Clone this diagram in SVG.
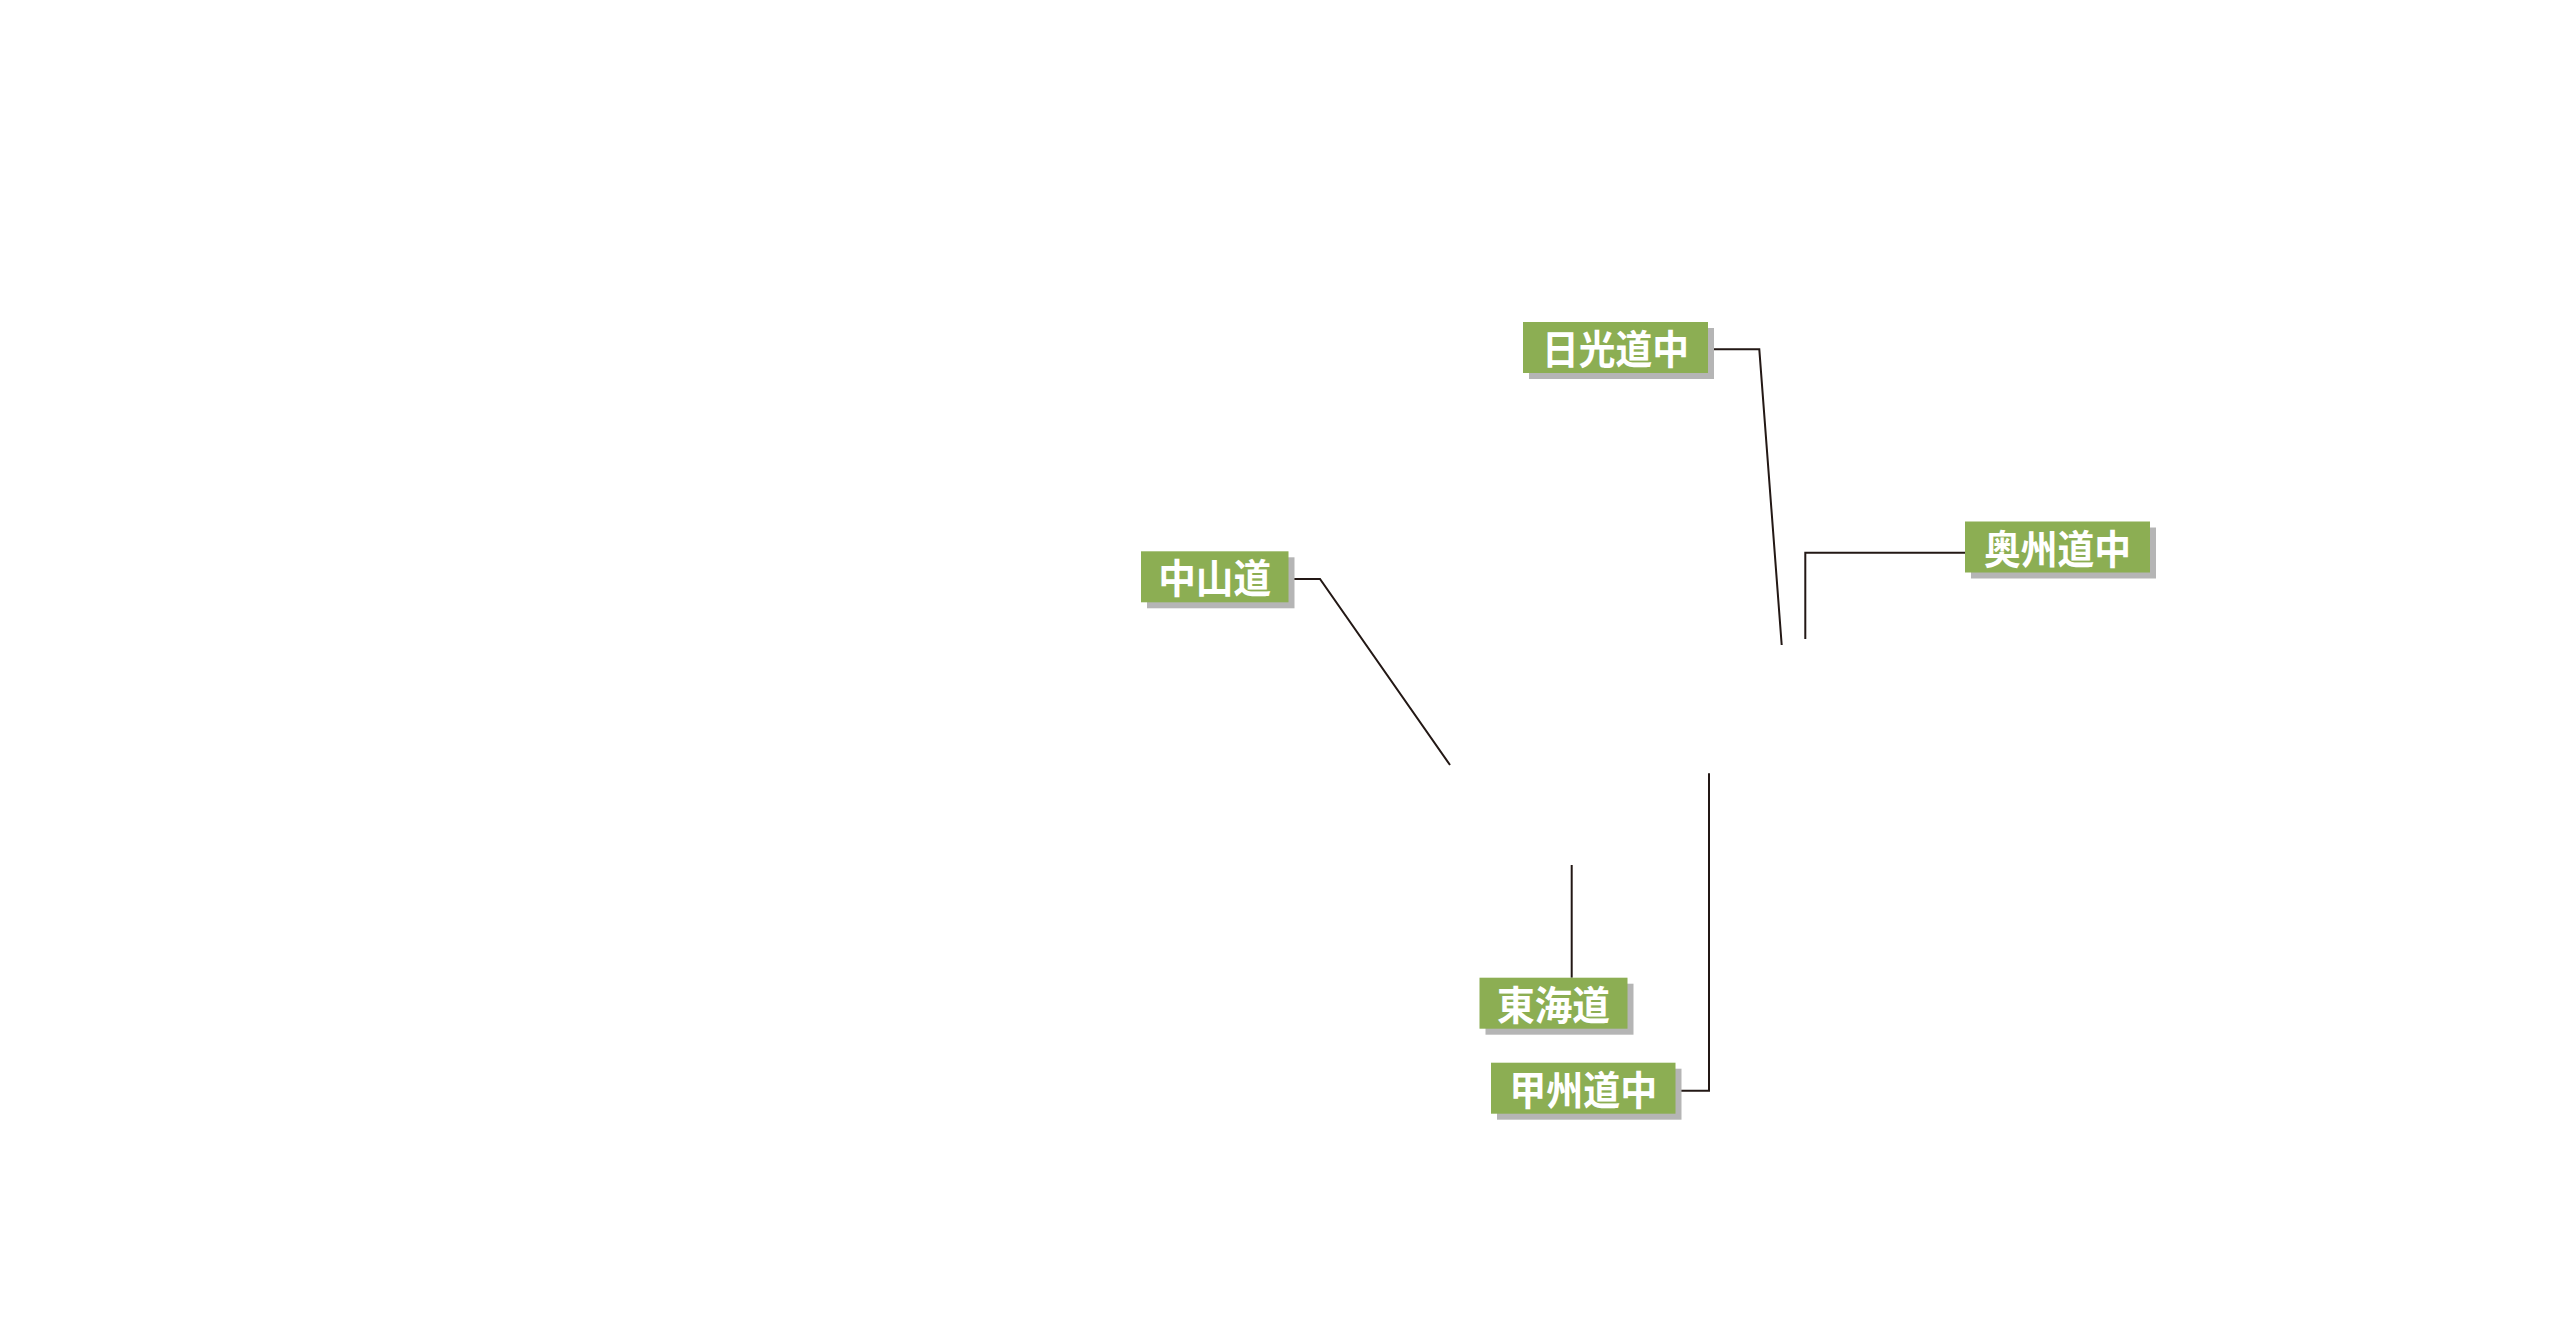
<svg xmlns="http://www.w3.org/2000/svg" width="2560" height="1344" viewBox="0 0 2560 1344">
<style>
.shadow{fill:#b5b5b5}
.box{fill:#8cae53}
.lbl{fill:#ffffff;font-family:"Noto Sans CJK JP","Noto Sans CJK SC",sans-serif;font-weight:700;font-size:40px;text-anchor:middle}
.conn{fill:none;stroke:#231815;stroke-width:2}
</style>
<rect width="2560" height="1344" fill="#ffffff"/>
<g id="connectors">
<path class="conn" d="M1708 349.3 H1759.3 L1781.7 645"/>
<path class="conn" d="M1965 552.7 H1805.3 V639"/>
<path class="conn" d="M1288.5 579 H1320 L1450 765"/>
<path class="conn" d="M1571.7 865 V977.7"/>
<path class="conn" d="M1675.5 1090.7 H1709 V773.3"/>
</g>
<g id="nikko">
<rect class="shadow" x="1529" y="328" width="185" height="51"/>
<rect class="box" x="1523" y="322" width="185" height="51"/>
<text class="lbl" x="1615.5" y="364" textLength="147" lengthAdjust="spacingAndGlyphs">日光道中</text>
</g>
<g id="oshu">
<rect class="shadow" x="1971" y="527.5" width="185" height="51"/>
<rect class="box" x="1965" y="521.5" width="185" height="51"/>
<text class="lbl" x="2057.5" y="563.5" textLength="147" lengthAdjust="spacingAndGlyphs">奥州道中</text>
</g>
<g id="nakasendo">
<rect class="shadow" x="1147" y="557.3" width="147.5" height="51"/>
<rect class="box" x="1141" y="551.3" width="147.5" height="51"/>
<text class="lbl" x="1214.7" y="593.3" textLength="113" lengthAdjust="spacingAndGlyphs">中山道</text>
</g>
<g id="tokaido">
<rect class="shadow" x="1485.5" y="983.7" width="148" height="51"/>
<rect class="box" x="1479.5" y="977.7" width="148" height="51"/>
<text class="lbl" x="1553.5" y="1019.7" textLength="113" lengthAdjust="spacingAndGlyphs">東海道</text>
</g>
<g id="koshu">
<rect class="shadow" x="1497" y="1068.7" width="184.5" height="51"/>
<rect class="box" x="1491" y="1062.7" width="184.5" height="51"/>
<text class="lbl" x="1583.2" y="1104.7" textLength="148" lengthAdjust="spacingAndGlyphs">甲州道中</text>
</g>
</svg>
